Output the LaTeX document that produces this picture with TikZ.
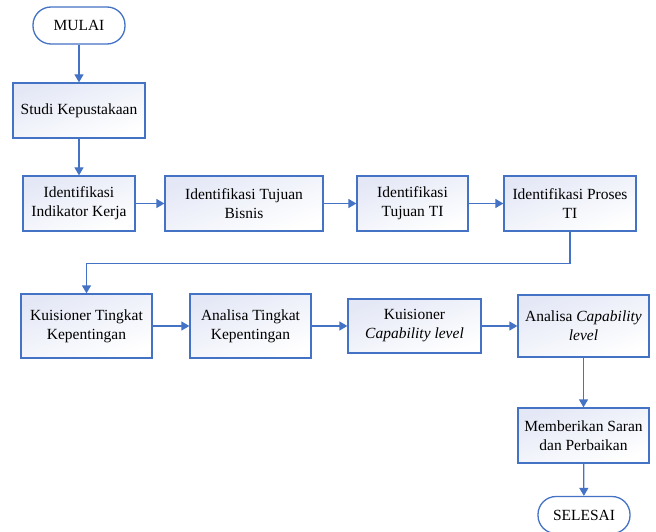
\documentclass[tikz,border=0pt]{standalone}
\usepackage{fontspec}
\setmainfont{Liberation Serif}
\newfontfamily\huruf{Liberation Serif}
\usetikzlibrary{arrows.meta}
\definecolor{garis}{HTML}{4472C4}
\definecolor{isi}{HTML}{E4E8F6}
\tikzset{
  kotak/.style={draw=garis,line width=1.3pt,rectangle,top color=isi,bottom color=white,
    shading angle=20,align=center,inner sep=2pt,minimum height=55pt},
  ujung/.style={draw=garis,line width=1.3pt,rounded corners=18pt,fill=white,
    minimum width=92pt,minimum height=37pt},
  panah/.style={draw=garis,line width=1.3pt,-{Triangle[length=8pt,width=9pt]}}
}
\begin{document}
\begin{tikzpicture}[x=1pt,y=-1pt,font=\huruf\fontsize{15.5}{19}\selectfont]
\useasboundingbox (0,0) rectangle (656,532);
\node (mulai) [ujung] at (79,25.5) {MULAI};
\node (studi) [kotak,minimum width=132pt] at (79,110.5) {Studi Kepustakaan};
\node (ik) [kotak,minimum width=112pt] at (79,203.5) {Identifikasi\\Indikator Kerja};
\node (itb) [kotak,minimum width=158pt] at (244,203.5) {Identifikasi Tujuan\\Bisnis};
\node (itt) [kotak,minimum width=111pt] at (412.5,203.5) {Identifikasi\\Tujuan TI};
\node (ipt) [kotak,minimum width=132pt] at (570,203.5) {Identifikasi Proses\\TI};
\node (kk) [kotak,minimum width=131pt,minimum height=64pt] at (86.5,326) {Kuisioner Tingkat\\Kepentingan};
\node (atk) [kotak,minimum width=121pt,minimum height=64pt] at (250.5,326) {Analisa Tingkat\\Kepentingan};
\node (kcl) [kotak,minimum width=133pt,minimum height=54pt] at (414.5,326) {Kuisioner\\\textit{Capability level}};
\node (acl) [kotak,minimum width=131pt,minimum height=62pt] at (583.5,326) {Analisa \textit{Capability}\\\textit{level}};
\node (ms) [kotak,minimum width=131pt] at (583.5,435.5) {Memberikan Saran\\dan Perbaikan};
\node (selesai) [ujung] at (584,515) {SELESAI};
\draw [panah] (mulai) -- (studi);
\draw [panah] (studi) -- (ik);
\draw [panah] (ik) -- (itb);
\draw [panah] (itb) -- (itt);
\draw [panah] (itt) -- (ipt);
\draw [panah] (ipt.south) -- ++(0,32) -| (kk.north);
\draw [panah] (kk) -- (atk);
\draw [panah] (atk) -- (kcl);
\draw [panah] (kcl) -- (acl);
\draw [panah] (acl) -- (ms);
\draw [panah] (ms) -- (selesai);
\end{tikzpicture}
\end{document}
